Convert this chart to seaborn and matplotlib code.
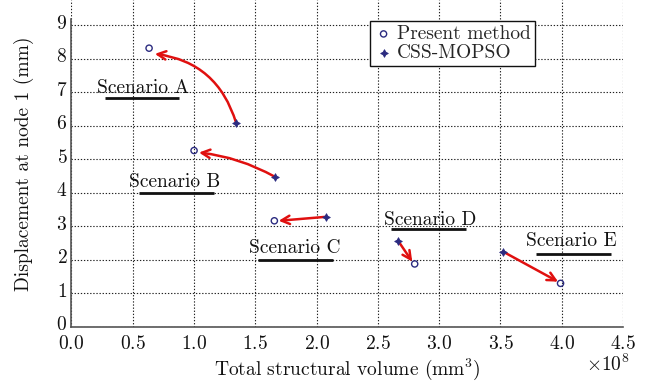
import numpy as np
import pandas as pd
import matplotlib
matplotlib.use("Agg")
import matplotlib.pyplot as plt
import matplotlib.transforms as mtransforms
import seaborn as sns

# Data (volume in mm^3, displacement in mm)
scenarios = ["Scenario A", "Scenario B", "Scenario C", "Scenario D", "Scenario E"]
present_vol = [0.633e8, 1.00e8, 1.655e8, 2.80e8, 3.99e8]
present_disp = [8.32, 5.26, 3.16, 1.87, 1.29]
css_vol = [1.343e8, 1.657e8, 2.08e8, 2.665e8, 3.52e8]
css_disp = [6.09, 4.48, 3.28, 2.56, 2.24]
xticks = [0.0, 0.5, 1.0, 1.5, 2.0, 2.5, 3.0, 3.5, 4.0, 4.5]
yticks = [0, 1, 2, 3, 4, 5, 6, 7, 8, 9]

# annotation layout (label centre, underline extent) in data units
label_pos = [(0.58e8, 7.12), (0.84e8, 4.32), (1.825e8, 2.34), (2.93e8, 3.18), (4.08e8, 2.55)]
underline = [(0.27e8, 0.88e8, 6.82), (0.55e8, 1.16e8, 3.99), (1.52e8, 2.13e8, 2.0),
             (2.61e8, 3.22e8, 2.91), (3.79e8, 4.40e8, 2.17)]
arrow_tips = [(0.68e8, 8.15), (1.04e8, 5.20), (1.69e8, 3.16), (2.78e8, 1.94), (3.97e8, 1.34)]
arrow_rad = [0.32, 0.1, 0.0, 0.0, 0.0]

FS = 14

sns.set_theme(style="white")
plt.rcParams["font.family"] = ["cmr10", "DejaVu Serif"]
plt.rcParams["mathtext.fontset"] = "cm"
plt.rcParams["axes.formatter.use_mathtext"] = True
plt.rcParams["axes.unicode_minus"] = False

fig = plt.figure(figsize=(6.47, 3.83), dpi=100)
ax = fig.add_axes([0.1105, 0.1475, 0.8525, 0.8525])

navy = "#2b2b80"
sns.scatterplot(x=present_vol, y=present_disp, ax=ax, marker="o", s=20,
                facecolor="none", edgecolor=navy, linewidth=1.0, label="Present method", zorder=5)
sns.scatterplot(x=css_vol, y=css_disp, ax=ax, marker=(4, 1, 0), s=30,
                color=navy, edgecolor=navy, linewidth=0.6, label="CSS-MOPSO", zorder=5)

for (cx, cy), (tx, ty), rad in zip(zip(css_vol, css_disp), arrow_tips, arrow_rad):
    ax.annotate("", xy=(tx, ty), xytext=(cx, cy),
                arrowprops=dict(arrowstyle="->,head_length=0.5,head_width=0.25",
                                color="#e0100f", lw=1.8,
                                connectionstyle=f"arc3,rad={rad}",
                                shrinkA=0, shrinkB=0), zorder=4)

for name, (lx, ly), (u0, u1, uy) in zip(scenarios, label_pos, underline):
    ax.text(lx, ly, name, ha="center", va="center", fontsize=FS, color="#111111", zorder=6)
    ax.plot([u0, u1], [uy, uy], color="#111111", lw=2.0, solid_capstyle="butt", zorder=6)

ax.set_xlim(0, 4.5e8)
ax.set_ylim(0, 9.76)
ax.set_xticks([t * 1e8 for t in xticks])
ax.set_yticks(yticks)
ax.tick_params(length=0, labelsize=FS, colors="#111111")
ax.tick_params(axis="x", pad=6)
ax.tick_params(axis="y", pad=3)
# y tick labels sit slightly above their grid lines in the reference
shift = mtransforms.ScaledTranslation(0, 0.035, fig.dpi_scale_trans)
for lbl in ax.get_yticklabels():
    lbl.set_transform(lbl.get_transform() + shift)
# place the scale factor (x10^8) like the reference
ax.xaxis.get_offset_text().set_visible(False)
ax.text(0.973, -0.082, r"$\times10^{8}$", transform=ax.transAxes, ha="center", va="top",
        fontsize=FS, color="#111111")

ax.grid(True, color="#222222", linestyle=(0, (1.2, 1.6)), lw=0.8)
for s in ["top", "right"]:
    ax.spines[s].set_visible(False)
ax.spines["left"].set_bounds(0, 9.2)
for s in ["left", "bottom"]:
    ax.spines[s].set_color("#555555")
    ax.spines[s].set_linewidth(1.2)

ax.set_xlabel("Total structural volume (mm$^3$)", fontsize=FS, color="#111111", labelpad=3)
ax.set_ylabel("Displacement at node 1 (mm)", fontsize=FS, color="#111111", labelpad=16)

leg = ax.legend(loc="upper right", bbox_to_anchor=(0.84, 0.935), fontsize=FS,
                frameon=True, fancybox=False, borderpad=0.2, handletextpad=0.2,
                labelspacing=0.05, handlelength=1.0, borderaxespad=0)
leg.get_frame().set_edgecolor("#111111")
leg.get_frame().set_linewidth(1.0)
leg.get_frame().set_alpha(1)

fig.savefig("out.png", dpi=100)
